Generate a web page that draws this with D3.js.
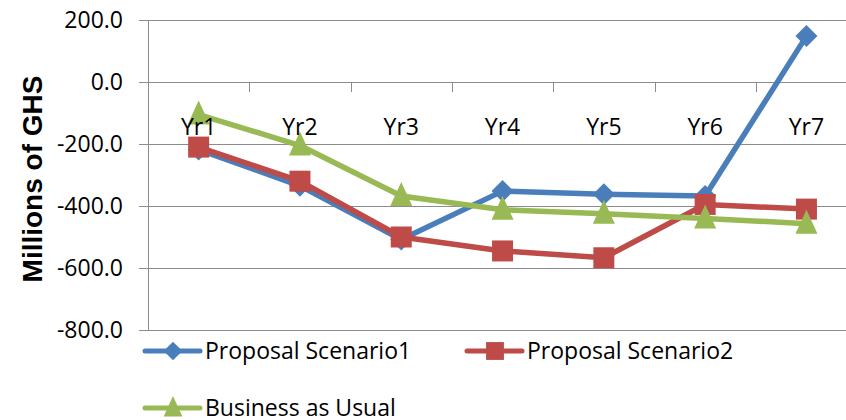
<!DOCTYPE html>
<html>
<head>
<meta charset="utf-8">
<script src="https://cdn.jsdelivr.net/npm/d3@7"></script>
<style>
  body { margin: 0; background: #fff; }
  text { font-family: "Open Sans", sans-serif; fill: #000; }
</style>
</head>
<body>
<div id="container"></div>
<script>
/* chart data */
var years = ["Yr1", "Yr2", "Yr3", "Yr4", "Yr5", "Yr6", "Yr7"];
var scenario1 = [-218, -335, -508, -352, -362, -368, 148];
var scenario2 = [-210, -320, -500, -545, -567, -395, -410];
var business = [-105, -205, -368, -412, -425, -440, -457];
var yTicks = [200, 0, -200, -400, -600, -800];
var seriesNames = ["Proposal Scenario1", "Proposal Scenario2", "Business as Usual"];

/* dimensions */
var W = 846, H = 420;
var plotLeft = 148, plotTop = 20, plotBottom = 330;

var svg = d3.select("#container")
            .append("svg")
            .attr("width", W)
            .attr("height", H)

var x = d3.scaleBand()
          .domain(years)
          .range([plotLeft, plotLeft + 7 * 101.3])

var y = d3.scaleLinear()
          .domain([-800, 200])
          .range([plotBottom, plotTop])

/* gridlines */
svg.append("g")
   .selectAll("line")
   .data(yTicks)
   .enter().append("line")
     .attr("x1", plotLeft - 9)
     .attr("x2", W)
     .attr("y1", function(d) { return Math.round(y(d)) + 0.5 })
     .attr("y2", function(d) { return Math.round(y(d)) + 0.5 })
     .attr("stroke", "#8c8c8c")
     .attr("stroke-width", 1)

/* vertical axis line */
svg.append("line")
   .attr("x1", plotLeft + 0.5).attr("x2", plotLeft + 0.5)
   .attr("y1", y(200)).attr("y2", y(-800))
   .attr("stroke", "#8c8c8c")

/* y tick labels (plain hyphen like the original) */
svg.append("g")
   .selectAll("text")
   .data(yTicks)
   .enter().append("text")
     .attr("x", plotLeft - 25)
     .attr("y", function(d) { return y(d) })
     .attr("dy", "0.35em")
     .attr("text-anchor", "end")
     .style("font-size", "23px")
     .text(function(d) { return d.toFixed(1) })

/* category ticks on the zero line */
var bounds = years.map(function(d) { return x(d) }).slice(1)
svg.append("g")
   .selectAll("line")
   .data(bounds)
   .enter().append("line")
     .attr("x1", function(d) { return Math.round(d) + 0.5 })
     .attr("x2", function(d) { return Math.round(d) + 0.5 })
     .attr("y1", y(0))
     .attr("y2", y(0) + 10)
     .attr("stroke", "#8c8c8c")

/* y axis title */
svg.append("text")
   .attr("transform", "translate(32,179) rotate(-90)")
   .attr("dy", "0.36em")
   .attr("text-anchor", "middle")
   .style("font-family", "'Liberation Sans', Arial, sans-serif")
   .style("font-weight", "bold")
   .style("font-size", "28px")
   .text("Millions of GHS")

/* series */
var series = [
  { name: seriesNames[0], values: scenario1, color: "#4a7ebb", shape: "diamond" },
  { name: seriesNames[1], values: scenario2, color: "#be4b48", shape: "square" },
  { name: seriesNames[2], values: business, color: "#98b954", shape: "triangle" }
]

function markerPath(shape, k) {
  k = k || 1
  if (shape == "diamond") { var a = 11 * k; return "M0," + (-a) + "L" + a + ",0L0," + a + "L" + (-a) + ",0Z" }
  if (shape == "square") { var b = 10.5 * k; return "M" + (-b) + "," + (-b) + "H" + b + "V" + b + "H" + (-b) + "Z" }
  return "M0," + (-14 * k) + "L" + (11 * k) + "," + (10 * k) + "L" + (-11 * k) + "," + (10 * k) + "Z"
}

var line = d3.line()
             .x(function(d, i) { return x(years[i]) + x.bandwidth() / 2 })
             .y(function(d) { return y(d) })

series.forEach(function(s) {
  svg.append("path")
     .datum(s.values)
     .attr("d", line)
     .attr("fill", "none")
     .attr("stroke", s.color)
     .attr("stroke-width", 5.5)
     .attr("stroke-linejoin", "round")

  svg.append("g")
     .selectAll("path")
     .data(s.values)
     .enter().append("path")
       .attr("d", markerPath(s.shape))
       .attr("fill", s.color)
       .attr("transform", function(d, i) {
         return "translate(" + (x(years[i]) + x.bandwidth() / 2) + "," + y(d) + ")"
       })
})

/* category labels, drawn on top of the lines */
svg.append("g")
   .selectAll("text")
   .data(years)
   .enter().append("text")
     .attr("x", function(d) { return x(d) + x.bandwidth() / 2 })
     .attr("y", 127)
     .attr("dy", "0.35em")
     .attr("text-anchor", "middle")
     .style("font-size", "23px")
     .text(function(d) { return d })

/* legend */
var legendPos = [[145, 351], [467, 351], [145, 408]]
series.forEach(function(s, i) {
  var g = svg.append("g")
             .attr("transform", "translate(" + legendPos[i][0] + "," + legendPos[i][1] + ")")
  g.append("line")
   .attr("x1", 0).attr("x2", 55)
   .attr("stroke", s.color)
   .attr("stroke-width", 5)
   .attr("stroke-linecap", "round")
  g.append("path")
   .attr("d", markerPath(s.shape, 0.85))
   .attr("fill", s.color)
   .attr("transform", "translate(28,0)")
  g.append("text")
   .attr("x", 60)
   .attr("dy", "0.35em")
   .style("font-size", "23px")
   .text(s.name)
})
</script>
</body>
</html>
